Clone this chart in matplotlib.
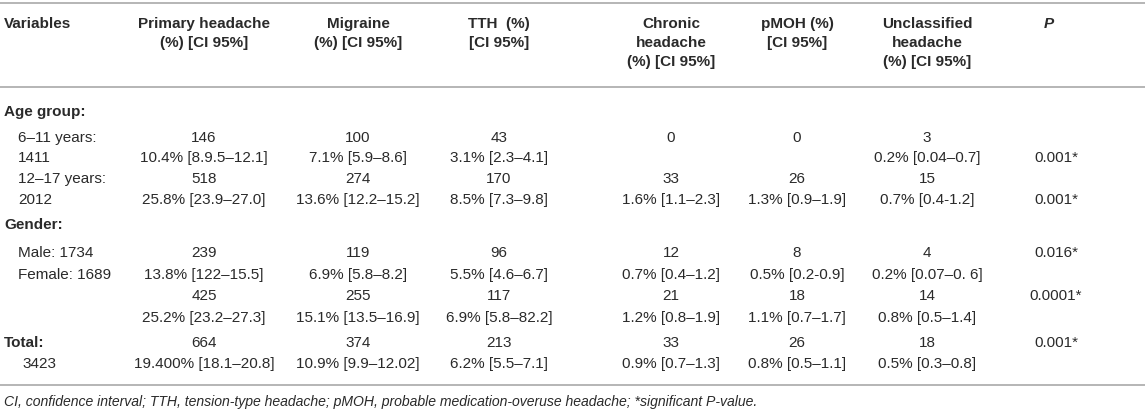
import matplotlib
matplotlib.use("Agg")
import matplotlib.pyplot as plt

# ---- data ----
groups = ["6–11 years", "12–17 years", "Male", "Female", "Total"]
primary = ["146", "518", "239", "425", "664"]
primary_ci = ["10.4% [8.9.5–12.1]", "25.8% [23.9–27.0]", "13.8% [122–15.5]",
              "25.2% [23.2–27.3]", "19.400% [18.1–20.8]"]
migraine = ["100", "274", "119", "255", "374"]
migraine_ci = ["7.1% [5.9–8.6]", "13.6% [12.2–15.2]", "6.9% [5.8–8.2]",
               "15.1% [13.5–16.9]", "10.9% [9.9–12.02]"]
tth = ["43", "170", "96", "117", "213"]
tth_ci = ["3.1% [2.3–4.1]", "8.5% [7.3–9.8]", "5.5% [4.6–6.7]",
          "6.9% [5.8–82.2]", "6.2% [5.5–7.1]"]
chronic = ["0", "33", "12", "21", "33"]
chronic_ci = ["", "1.6% [1.1–2.3]", "0.7% [0.4–1.2]", "1.2% [0.8–1.9]", "0.9% [0.7–1.3]"]
pmoh = ["0", "26", "8", "18", "26"]
pmoh_ci = ["", "1.3% [0.9–1.9]", "0.5% [0.2-0.9]", "1.1% [0.7–1.7]", "0.8% [0.5–1.1]"]
unclassified = ["3", "15", "4", "14", "18"]
unclassified_ci = ["0.2% [0.04–0.7]", "0.7% [0.4-1.2]", "0.2% [0.07–0. 6]",
                   "0.8% [0.5–1.4]", "0.5% [0.3–0.8]"]
p_values = ["0.001*", "0.001*", "0.016*", "0.0001*", "0.001*"]

headers = [
    ["Primary headache", "(%) [CI 95%]"],
    ["Migraine", "(%) [CI 95%]"],
    ["TTH  (%)", "[CI 95%]"],
    ["Chronic", "headache", "(%) [CI 95%]"],
    ["pMOH (%)", "[CI 95%]"],
    ["Unclassified", "headache", "(%) [CI 95%]"],
]
footnote = ("CI, confidence interval; TTH, tension-type headache; pMOH, probable "
            "medication-overuse headache; *significant P-value.")

# ---- layout ----
W, H = 1145, 414
plt.rcParams['font.family'] = ['Liberation Sans', 'DejaVu Sans']
fig = plt.figure(figsize=(W / 100, H / 100), dpi=100)
ax = fig.add_axes([0, 0, 1, 1])
ax.set_xlim(0, W)
ax.set_ylim(H, 0)
ax.axis("off")

FS = 11
FS_NOTE = 10.1
TXT = "#2a2a2a"
RULE = "#b0b0b0"

col_x = [204, 358, 499, 671, 797, 927]
p_x = 1056
header_y = [24, 43, 62]

for y in (4, 88, 386):
    ax.axhline(y, color=RULE, lw=1.3)

ax.text(4, header_y[0], "Variables", fontsize=FS, fontweight="bold",
        color=TXT, ha="left", va="center")
for cx, lines in zip(col_x, headers):
    for k, line in enumerate(lines):
        ax.text(cx, header_y[k], line, fontsize=FS, fontweight="bold",
                color=TXT, ha="center", va="center")
ax.text(1049, header_y[0], "P", fontsize=FS, fontweight="bold", style="italic",
        color=TXT, ha="center", va="center")

# section labels
sections = [("Age group:", 112), ("Gender:", 225)]
for lab, y in sections:
    ax.text(4, y, lab, fontsize=FS, fontweight="bold", color=TXT, ha="left", va="center")

# per-group line positions (count line, percent line)
row_y = [(138, 158), (179, 200), (253, 275), (296, 318), (343, 364)]
labels = {
    0: [("6–11 years:", 0), ("1411", 1)],
    1: [("12–17 years:", 0), ("2012", 1)],
    2: [("Male: 1734", 0), ("Female: 1689", 1)],
    4: [("3423", 1)],
}
for gi, items in labels.items():
    for lab, line in items:
        x = 22 if gi == 4 else 18
        ax.text(x, row_y[gi][line], lab, fontsize=FS, color=TXT, ha="left", va="center")
ax.text(4, row_y[4][0], "Total:", fontsize=FS, fontweight="bold", color=TXT,
        ha="left", va="center")

cols = [(primary, primary_ci), (migraine, migraine_ci), (tth, tth_ci),
        (chronic, chronic_ci), (pmoh, pmoh_ci), (unclassified, unclassified_ci)]
for cx, (cnt, ci) in zip(col_x, cols):
    for gi in range(len(groups)):
        y0, y1 = row_y[gi]
        ax.text(cx, y0, cnt[gi], fontsize=FS, color=TXT, ha="center", va="center")
        if ci[gi]:
            ax.text(cx, y1, ci[gi], fontsize=FS, color=TXT, ha="center", va="center")

p_line = [1, 1, 0, 0, 0]
for gi, pv in enumerate(p_values):
    ax.text(p_x, row_y[gi][p_line[gi]], pv, fontsize=FS, color=TXT,
            ha="center", va="center")

ax.text(4, 402, footnote, fontsize=FS_NOTE, style="italic", color=TXT,
        ha="left", va="center")

fig.savefig("out.png", dpi=100)
